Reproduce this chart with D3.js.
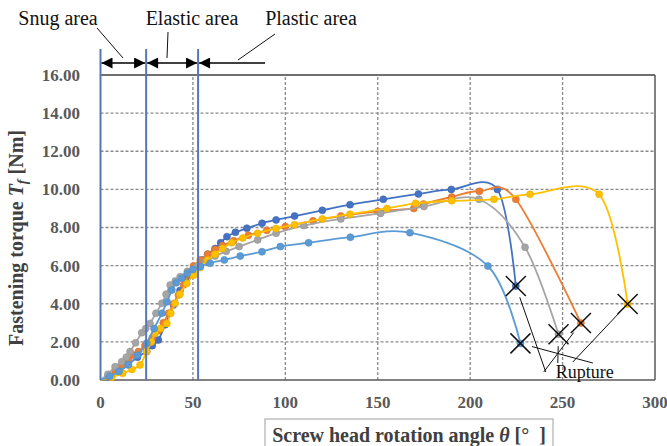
<!DOCTYPE html>
<html>
<head>
<meta charset="utf-8">
<script src="https://cdn.jsdelivr.net/npm/d3@7"></script>
<style>
  body { margin: 0; background: #fff; }
  svg { display: block; }
</style>
</head>
<body>
<svg width="667" height="446"></svg>
<script>
// torque curves, [angle deg, torque Nm]
const seriesNames = ["S1", "S2", "S3", "S4", "S5"];
const seriesColors = ["#4472C4", "#ED7D31", "#A5A5A5", "#FFC000", "#5B9BD5"];

const s1 = [[0,0],[5,0.2],[10,0.45],[15,0.8],[20,1.2],[25,1.5],[28,1.8],[31.3,2.1],[35,2.9],[39.5,3.94],[43,4.7],[47,5.4],[51,5.95],[55,6.3],[58,6.6],[62,6.9],[65,7.2],[68.4,7.52],[73,7.75],[79.2,7.96],[87.4,8.22],[95,8.4],[105,8.6],[120,8.9],[135,9.2],[153,9.48],[172,9.76],[189.8,10.0],[214.7,10.0],[224.7,4.93]];
const s2 = [[0,0],[4,0.2],[8,0.5],[11.5,0.79],[15,1.05],[18,1.3],[20.5,1.49],[24,1.8],[28,2.2],[31.3,2.59],[34,3.0],[36.8,3.5],[39.5,4.0],[42.2,4.46],[45,5.0],[48,5.55],[50.3,5.98],[54,6.3],[58,6.6],[62,6.85],[66,7.05],[72,7.3],[80,7.6],[90,7.85],[100,8.05],[115,8.35],[130,8.6],[150,8.85],[169.5,9.0],[174.8,9.23],[190,9.6],[205,9.9],[224.7,9.48],[259.9,2.99]];
const s3 = [[0,0],[4,0.3],[7.9,0.7],[11.5,0.96],[14,1.2],[16,1.49],[19,1.95],[22.3,2.48],[24.5,2.7],[26.8,2.97],[30,3.5],[33.2,4.02],[35.5,4.5],[37.7,4.98],[40.5,5.2],[43.1,5.42],[47,5.7],[52,5.95],[57,6.25],[62,6.5],[68,6.75],[75,7.0],[85,7.35],[95,7.7],[110,8.1],[130,8.45],[151.5,8.74],[175,9.1],[204.8,9.48],[229.7,6.96],[247.8,2.4]];
const s4 = [[0,0],[6,0.15],[12,0.35],[17,0.55],[21.4,0.79],[25,1.5],[27.5,2.0],[29.5,2.45],[32.5,2.7],[35.9,2.97],[38,3.5],[40.4,4.02],[43,4.5],[46.7,5.07],[50.3,5.5],[54,5.9],[58,6.3],[62,6.6],[66,6.9],[71,7.2],[77,7.45],[85,7.7],[95,7.95],[105,8.15],[120,8.45],[135,8.7],[155,9.0],[170.5,9.27],[190,9.4],[212.9,9.48],[232.4,9.74],[269.8,9.74],[285.2,3.99]];
const s5 = [[0,0],[5,0.2],[10,0.45],[15,0.8],[20,1.3],[25,1.93],[29,2.7],[33.2,3.5],[36,4.1],[38.6,4.72],[41,5.1],[44,5.34],[47,5.6],[50,5.8],[54,5.95],[59.3,6.13],[67,6.3],[75.6,6.5],[87.4,6.73],[97.3,7.0],[112.6,7.2],[135.2,7.49],[167.4,7.73],[209.6,5.98],[227.2,1.92]];
const seriesData = [s1, s2, s3, s4, s5];

// leader line ends for the "Rupture" label, one per series
const ruptureLeaderEnds = [[240.9,0.42],[239.8,0.42],[247.4,0.89],[255.5,0.94],[266.4,0.89]];

const xTicks = [0, 50, 100, 150, 200, 250, 300];
const yTicks = [0, 2, 4, 6, 8, 10, 12, 14, 16];

// area boundaries (deg) and where the plastic arrow stops
const areaBounds = [0, 24.7, 52.8];
const plasticEnd = 89;
const areaLabels = ["Snug area", "Elastic area", "Plastic area"];

const svg = d3.select("svg");
const x = d3.scaleLinear().domain([0, 300]).range([100.5, 655]);
const y = d3.scaleLinear().domain([0, 16]).range([380, 75]);

const serif = "'Liberation Serif', 'Times New Roman', serif";

// grid
svg.append("g").selectAll("line").data(yTicks.filter(d => d > 0 && d < 16))
  .enter().append("line")
    .attr("x1", x(0)).attr("x2", x(300))
    .attr("y1", d => y(d)).attr("y2", d => y(d))
    .attr("stroke", "#8a8a8a").attr("stroke-width", 1.3)
    .attr("stroke-dasharray", "3,2");

svg.append("g").selectAll("line").data(xTicks.filter(d => d > 0 && d < 300))
  .enter().append("line")
    .attr("x1", d => x(d)).attr("x2", d => x(d))
    .attr("y1", y(0)).attr("y2", y(16))
    .attr("stroke", "#8a8a8a").attr("stroke-width", 1.3)
    .attr("stroke-dasharray", "3,2");

// frame
svg.append("line").attr("x1", x(0)).attr("x2", x(300)).attr("y1", y(16)).attr("y2", y(16))
  .attr("stroke", "#404040").attr("stroke-width", 1.3);
svg.append("line").attr("x1", x(300)).attr("x2", x(300)).attr("y1", y(16)).attr("y2", y(0))
  .attr("stroke", "#404040").attr("stroke-width", 1.3);
svg.append("line").attr("x1", x(0)).attr("x2", x(300)).attr("y1", y(0)).attr("y2", y(0))
  .attr("stroke", "#595959").attr("stroke-width", 1.5);

// tick labels
svg.append("g").selectAll("text").data(yTicks).enter().append("text")
  .attr("x", 80).attr("y", d => y(d)).attr("dy", "0.35em")
  .attr("text-anchor", "end")
  .attr("font-family", serif).attr("font-weight", "bold").attr("font-size", 17)
  .attr("fill", "#595959")
  .text(d => d3.format(".2f")(d));

svg.append("g").selectAll("text").data(xTicks).enter().append("text")
  .attr("x", d => x(d)).attr("y", 408)
  .attr("text-anchor", "middle")
  .attr("font-family", serif).attr("font-weight", "bold").attr("font-size", 17)
  .attr("fill", "#595959")
  .text(d => d);

// axis titles
const yt = svg.append("text")
  .attr("transform", "translate(23," + 238 + ") rotate(-90)")
  .attr("text-anchor", "middle")
  .attr("font-family", serif).attr("font-weight", "bold").attr("font-size", 20)
  .attr("fill", "#404040");
yt.append("tspan").text("Fastening torque ");
yt.append("tspan").attr("font-style", "italic").text("T");
yt.append("tspan").attr("font-style", "italic").attr("font-size", 14).attr("dy", 4).text("f");
yt.append("tspan").attr("dy", -4).text(" [Nm]");

svg.append("rect").attr("x", 265).attr("y", 419).attr("width", 288).attr("height", 40)
  .attr("fill", "#fff").attr("stroke", "#bfbfbf").attr("stroke-width", 1.5);
const xt = svg.append("text")
  .attr("x", 409).attr("y", 442).attr("text-anchor", "middle")
  .attr("font-family", serif).attr("font-weight", "bold").attr("font-size", 20)
  .attr("fill", "#404040");
xt.append("tspan").text("Screw head rotation angle ");
xt.append("tspan").attr("font-style", "italic").text("θ");
xt.append("tspan").text(" [°\u00a0\u00a0]");

// curves
const line = d3.line()
  .x(d => x(d[0])).y(d => y(d[1]))
  .curve(d3.curveCardinal.tension(0));

seriesData.forEach(function(data, i) {
  const g = svg.append("g").attr("class", "series " + seriesNames[i]);
  g.append("path").attr("d", line(data))
    .attr("fill", "none").attr("stroke", seriesColors[i]).attr("stroke-width", 1.8);
  g.selectAll("circle").data(data.slice(1)).enter().append("circle")
    .attr("cx", d => x(d[0])).attr("cy", d => y(d[1])).attr("r", 3.5)
    .attr("fill", seriesColors[i])
    .attr("stroke", d3.color(seriesColors[i]).darker(0.3)).attr("stroke-width", 0.6);
});

// area boundary lines
svg.append("g").selectAll("line").data(areaBounds).enter().append("line")
  .attr("x1", d => x(d)).attr("x2", d => x(d))
  .attr("y1", 49).attr("y2", y(0))
  .attr("stroke", "#5676b6").attr("stroke-width", 2);

// arrows
const defs = svg.append("defs");
defs.append("marker").attr("id", "ah").attr("viewBox", "0 0 10 10")
  .attr("refX", 10).attr("refY", 5).attr("markerWidth", 6).attr("markerHeight", 6)
  .attr("orient", "auto-start-reverse").attr("markerUnits", "userSpaceOnUse")
  .attr("markerWidth", 13).attr("markerHeight", 11)
  .append("path").attr("d", "M0,0 L10,5 L0,10 Z").attr("fill", "#000");

const arrowY = 63;
const arrowSpans = [[areaBounds[0], areaBounds[1], true], [areaBounds[1], areaBounds[2], true], [areaBounds[2], plasticEnd, false]];
arrowSpans.forEach(function(s) {
  const a = svg.append("line")
    .attr("x1", x(s[0]) + 1).attr("x2", x(s[1]) - (s[2] ? 1 : 0))
    .attr("y1", arrowY).attr("y2", arrowY)
    .attr("stroke", "#000").attr("stroke-width", 1.6)
    .attr("marker-start", "url(#ah)");
  if (s[2]) a.attr("marker-end", "url(#ah)");
});

// area labels with leaders
const labelPos = [[58, 25], [192, 25], [311, 25]];
const leaders = [[[97, 28], [123, 58]], [[168, 32], [167, 58]], [[275, 34], [238, 60]]];
areaLabels.forEach(function(t, i) {
  svg.append("text").attr("x", labelPos[i][0]).attr("y", labelPos[i][1])
    .attr("text-anchor", "middle")
    .attr("font-family", serif).attr("font-size", 20).attr("fill", "#111")
    .text(t);
  svg.append("line")
    .attr("x1", leaders[i][0][0]).attr("y1", leaders[i][0][1])
    .attr("x2", leaders[i][1][0]).attr("y2", leaders[i][1][1])
    .attr("stroke", "#111").attr("stroke-width", 1);
});

// rupture marks
const rupture = seriesData.map(d => d[d.length - 1]);
const xs = svg.append("g");
rupture.forEach(function(p, i) {
  const cx = x(p[0]), cy = y(p[1]), r = 10;
  xs.append("path")
    .attr("d", "M" + (cx - r) + "," + (cy - r) + "L" + (cx + r) + "," + (cy + r) +
               "M" + (cx - r) + "," + (cy + r) + "L" + (cx + r) + "," + (cy - r))
    .attr("stroke", "#111").attr("stroke-width", 1.5).attr("fill", "none");
  const ex = x(ruptureLeaderEnds[i][0]), ey = y(ruptureLeaderEnds[i][1]);
  const dx = ex - cx, dy = ey - cy, len = Math.sqrt(dx * dx + dy * dy);
  xs.append("line")
    .attr("x1", cx + dx / len * 12).attr("y1", cy + dy / len * 12)
    .attr("x2", ex).attr("y2", ey)
    .attr("stroke", "#111").attr("stroke-width", 1);
});
svg.append("text").attr("x", x(262)).attr("y", 378)
  .attr("text-anchor", "middle")
  .attr("font-family", serif).attr("font-size", 18).attr("fill", "#111")
  .text("Rupture");
</script>
</body>
</html>
